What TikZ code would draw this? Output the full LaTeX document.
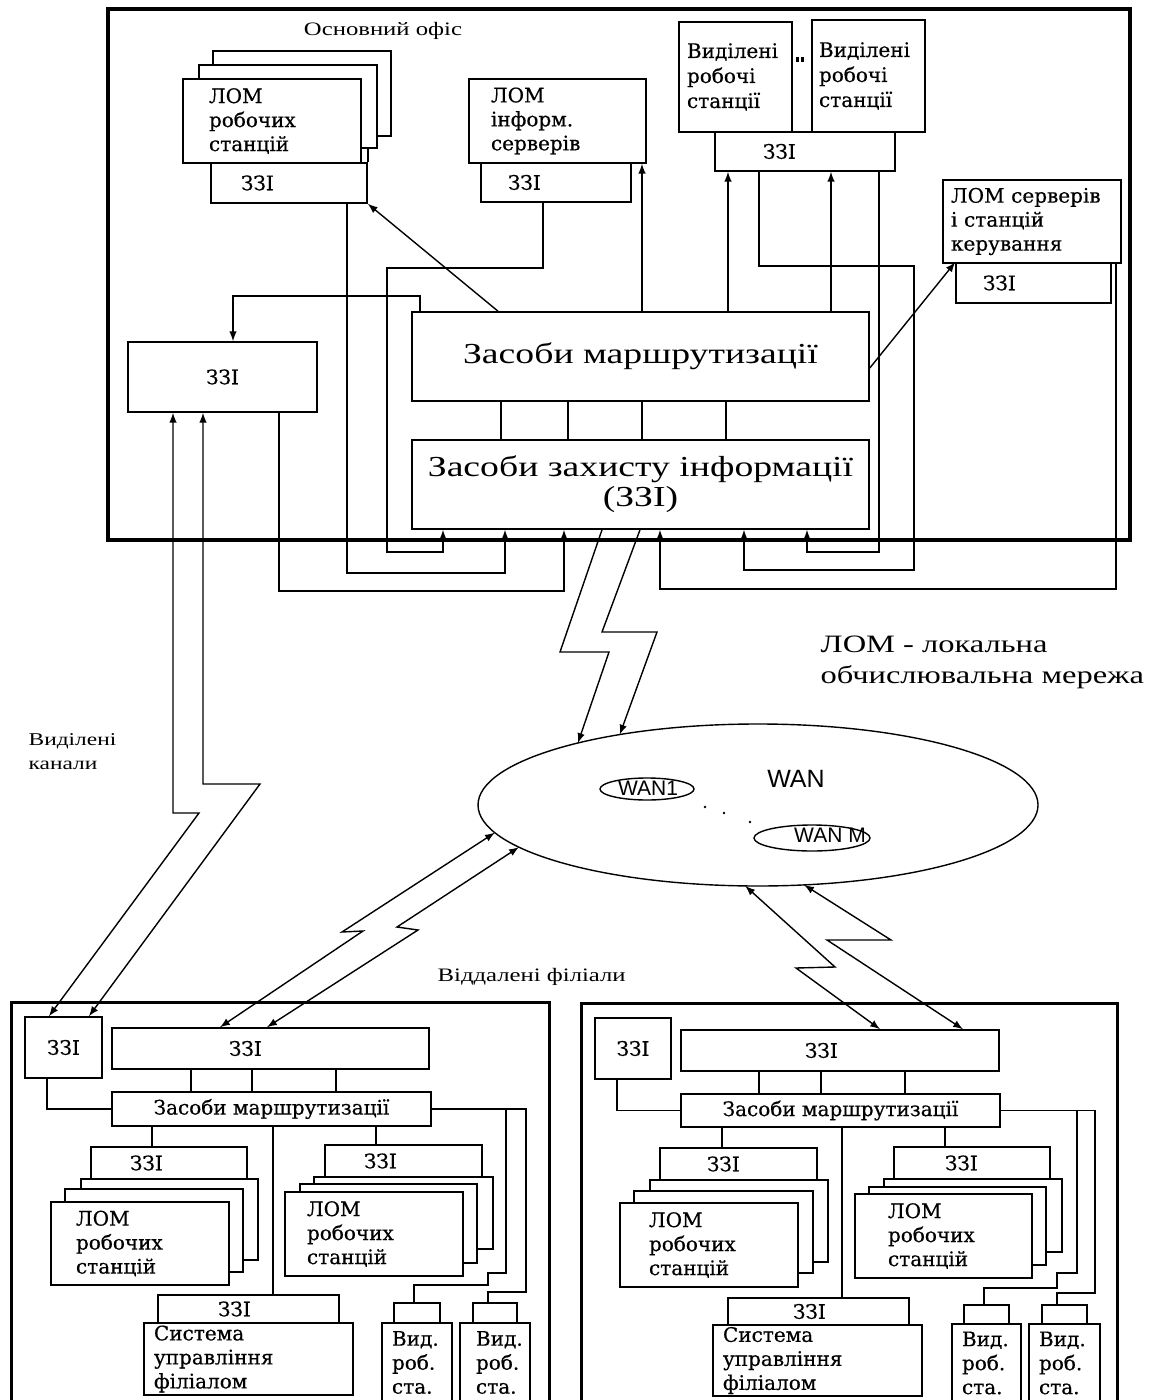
\documentclass[tikz,border=0pt]{standalone}
\usepackage{fontspec}
\setmainfont{Liberation Serif}[FakeStretch=1.3]
\newfontfamily\boxfont{DejaVu Serif}[FakeBold=0.5]
\newfontfamily\wanfont{Liberation Sans}
\usetikzlibrary{shapes.geometric, arrows}

% box from corner (x1,y1) to (x2,y2), text centred
\newcommand{\bx}[7][]{\node[box,minimum width={(#5-#3)*0.5pt},minimum height={(#6-#4)*0.5pt},#1] (#2) at ({(#3+#5)/2},{(#4+#6)/2}) {#7};}
% same, text set left with an offset
\newcommand{\lbx}[8][]{\node[box,align=left,inner xsep={#3*0.5pt},text width={(#6-#4-2*#3)*0.5pt},minimum height={(#7-#5)*0.5pt},#1] (#2) at ({(#4+#6)/2},{(#5+#7)/2}) {#8};}

\begin{document}
\begin{tikzpicture}[x=0.5pt, y=-0.5pt, line width=0.7pt, >=latex,
  box/.style={draw, fill=white, line width=0.8pt, inner sep=0pt, font=\boxfont\fontsize{10}{12}\selectfont},
  frame/.style={line width=2pt},
  big/.style={font=\fontsize{14.5}{15}\selectfont, align=center},
  lbl/.style={anchor=west, inner sep=0pt, align=left}]
\useasboundingbox (0,0) rectangle (1158,1400);
\clip (0,0) rectangle (1158,1400);

% main office
\bx[frame]{office}{108}{9}{1130}{540}{}
\node[inner sep=0pt, font=\fontsize{9.5}{11}\selectfont] (offttl) at (383,31) {Основний офіс};

\bx{lomA3}{213}{51}{391}{136}{}
\bx{lomA2}{199}{65}{377}{148}{}
\lbx{zziA}{30}{211}{163}{367}{203}{ЗЗІ}
\draw[line width=0.8pt] (zziA.north east) -- (zziA.north east |- lomA2.south);
\lbx{lomA1}{26}{183}{79}{361}{163}{ЛОМ\\робочих\\станцій}

\lbx{lomB}{22}{469}{79}{646}{163}{ЛОМ\\інформ.\\серверів}
\lbx{zziB}{27}{481}{163}{631}{202}{ЗЗІ}

\lbx[font=\boxfont\fontsize{10}{12.5}\selectfont]{wsA}{8}{679}{22}{792}{132}{Виділені\\робочі\\станції}
\lbx[font=\boxfont\fontsize{10}{12.5}\selectfont]{wsB}{7}{812}{20}{925}{132}{Виділені\\робочі\\станції}
\fill (796,57) rectangle (799,62);
\fill (801,57) rectangle (804,62);
\lbx{zziC}{48}{715}{132}{895}{171}{ЗЗІ}

\lbx{lomC}{8}{943}{180}{1121}{263}{ЛОМ серверів\\і станцій\\керування}
\lbx{zziD}{27}{956}{263}{1111}{303}{ЗЗІ}

\bx{zziE}{128}{342}{317}{412}{ЗЗІ}
\bx[big]{route}{412}{312}{869}{401}{Засоби маршрутизації}
\bx[big]{protect}{412}{440}{869}{529}{Засоби захисту інформації\\(ЗЗІ)}

% left branch
\bx[line width=1.5pt]{lbr}{11}{1002}{549}{1420}{}
\bx{lZa}{25}{1017}{102}{1078}{ЗЗІ}
\lbx{lZb}{117}{112}{1028}{429}{1069}{ЗЗІ}
\bx{lRt}{112}{1092}{431}{1126}{Засоби маршрутизації}
\lbx{lLz}{39}{91}{1147}{247}{1179}{ЗЗІ}
\bx{lL3}{81}{1179}{258}{1260}{}
\bx{lL2}{65}{1189}{243}{1272}{}
\lbx{lL1}{25}{51}{1202}{229}{1285}{ЛОМ\\робочих\\станцій}
\lbx{lRz}{39}{325}{1145}{482}{1177}{ЗЗІ}
\bx{lR3}{314}{1177}{493}{1249}{}
\bx{lR2}{300}{1184}{477}{1263}{}
\lbx{lR1}{22}{285}{1192}{463}{1276}{ЛОМ\\робочих\\станцій}
\lbx{lSz}{60}{158}{1295}{339}{1323}{ЗЗІ}
\lbx{lSy}{10}{144}{1323}{353}{1395}{Система\\управління\\філіалом}
\bx{lVc1}{394}{1303}{440}{1323}{}
\lbx{lV1}{10}{382}{1323}{452}{1402}{Вид.\\роб.\\ста.}
\bx{lVc2}{473}{1303}{517}{1323}{}
\lbx{lV2}{16}{460}{1323}{530}{1402}{Вид.\\роб.\\ста.}

% right branch
\bx[line width=1.5pt]{rbr}{581}{1003}{1117}{1420}{}
\bx{rZa}{595}{1018}{671}{1079}{ЗЗІ}
\lbx{rZb}{124}{681}{1030}{999}{1071}{ЗЗІ}
\bx{rRt}{681}{1094}{1000}{1127}{Засоби маршрутизації}
\lbx{rLz}{47}{660}{1148}{817}{1180}{ЗЗІ}
\bx{rL3}{650}{1180}{828}{1262}{}
\bx{rL2}{634}{1191}{813}{1273}{}
\lbx{rL1}{29}{620}{1203}{798}{1287}{ЛОМ\\робочих\\станцій}
\lbx{rRz}{51}{894}{1147}{1050}{1179}{ЗЗІ}
\bx{rR3}{884}{1179}{1062}{1252}{}
\bx{rR2}{869}{1187}{1046}{1265}{}
\lbx{rR1}{33}{855}{1194}{1032}{1278}{ЛОМ\\робочих\\станцій}
\lbx{rSz}{65}{728}{1298}{909}{1325}{ЗЗІ}
\lbx{rSy}{10}{713}{1325}{922}{1396}{Система\\управління\\філіалом}
\bx{rVc1}{964}{1305}{1009}{1324}{}
\lbx{rV1}{10}{952}{1324}{1021}{1402}{Вид.\\роб.\\ста.}
\bx{rVc2}{1042}{1305}{1087}{1324}{}
\lbx{rV2}{10}{1029}{1324}{1100}{1402}{Вид.\\роб.\\ста.}

% WAN
\node[draw, ellipse, minimum width=280pt, minimum height=81pt, inner sep=0pt, outer sep=0pt] (wan) at (758,805) {};
\node[draw, ellipse, minimum width=47pt, minimum height=11pt, inner sep=0pt] (wanA) at (647,789) {};
\node[font=\wanfont\fontsize{10.5}{11}\selectfont, inner sep=0pt] (wanAt) at (648,788) {WAN1};
\node[font=\wanfont\fontsize{12.5}{13}\selectfont, inner sep=0pt] (want) at (796,779) {WAN};
\node[draw, ellipse, minimum width=58pt, minimum height=13pt, inner sep=0pt] (wanM) at (812,838) {};
\node[font=\wanfont\fontsize{10.5}{11}\selectfont, inner sep=0pt] (wanMt) at (830,835) {WAN M};
\foreach \p in {(705,807),(724,813),(750,822)} \fill \p circle (0.7pt);

% inside the office
\foreach \x in {501,568,642,726} \draw (route.south -| \x,0) -- (protect.north -| \x,0);
\draw[->] (zziA.south -| 347,0) -- (347,573) -| (protect.south -| 505,0);
\draw[->] (zziB.south -| 543,0) -- (543,268) -| (387,552) -| (protect.south -| 443,0);
\draw[->] (zziE.south -| 279,0) -- (279,591) -| (protect.south -| 564,0);
\draw[->] (zziC.south -| 759,0) -- (759,266) -| (914,570) -| (protect.south -| 744,0);
\draw[->] (zziC.south -| 879,0) -- (879,552) -| (protect.south -| 807,0);
\draw[->] (lomC.south -| 1116,0) -- (1116,589) -| (protect.south -| 660,0);
\draw[->] (route.north -| 642,0) -- (lomB.south -| 642,0);
\draw[->] (route.north -| 728,0) -- (zziC.south -| 728,0);
\draw[->] (route.north -| 831,0) -- (zziC.south -| 831,0);
\draw[->] (route.north -| 498,0) -- (zziA.south east);
\draw[->] (route.north -| 420,0) -- (420,296) -| (zziE.north -| 233,0);
\draw[->] (route.east |- 0,368) -- (zziD.north west);

% dedicated channels
\draw[latex-latex] (zziE.south -| 173,0) -- (173,813) -- (199,813) -- (lZa.north -| 49,0);
\draw[latex-latex] (zziE.south -| 203,0) -- (203,784) -- (260,784) -- (lZa.north -| 89,0);

% radio links
\draw[->] (protect.south -| 602,0) -- (560,652) -- (609,652) -- (wan.161);
\draw[->] (protect.south -| 640,0) -- (602,632) -- (657,632) -- (wan.153);
\draw[latex-latex] (wan.186) -- (342,932) -- (363,931) -- (lZb.north -| 220,0);
\draw[latex-latex] (wan.190) -- (397,927) -- (418,930) -- (lZb.north -| 267,0);
\draw[latex-latex] (wan.261) -- (835,967) -- (796,968) -- (rZb.north -| 880,0);
\draw[latex-latex] (wan.300) -- (891,940) -- (827,940) -- (rZb.north -| 963,0);

% branches
\foreach \x in {191,252,336} \draw (lZb.south -| \x,0) -- (lRt.north -| \x,0);
\draw (lZa.south -| 47,0) |- (lRt.west);
\draw (lRt.south -| 152,0) -- (lLz.north -| 152,0);
\draw (lRt.south -| 376,0) -- (lRz.north -| 376,0);
\draw (lRt.south -| 273,0) -- (lSz.north -| 273,0);
\draw (lRt.east) -| (526,1292) -| (lVc2.north -| 488,0);
\draw (lRt.east -| 506,0) -- (506,1273) -| (488,1285) -| (lVc1.north -| 414,0);

\foreach \x in {759,821,905} \draw (rZb.south -| \x,0) -- (rRt.north -| \x,0);
\draw (rZa.south -| 617,0) |- (rRt.west);
\draw (rRt.south -| 722,0) -- (rLz.north -| 722,0);
\draw (rRt.south -| 945,0) -- (rRz.north -| 945,0);
\draw (rRt.south -| 842,0) -- (rSz.north -| 842,0);
\draw (rRt.east) -| (1095,1293) -| (rVc2.north -| 1057,0);
\draw (rRt.east -| 1077,0) -- (1077,1273) -| (1057,1288) -| (rVc1.north -| 984,0);

% texts
\node[lbl, font=\fontsize{9}{12}\selectfont] (chan) at (28,752) {Виділені\\канали};
\node[lbl, font=\fontsize{9.5}{11}\selectfont] (brlbl) at (437,977) {Віддалені філіали};
\node[lbl, font=\fontsize{12.5}{15.5}\selectfont] (legend) at (820,662) {ЛОМ - локальна\\обчислювальна мережа};
\end{tikzpicture}
\end{document}
